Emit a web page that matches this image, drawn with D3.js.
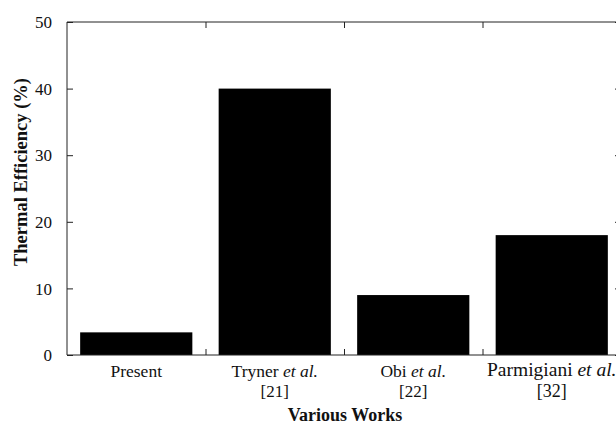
<!DOCTYPE html>
<html>
<head>
<meta charset="utf-8">
<script src="https://cdn.jsdelivr.net/npm/d3@7"></script>
<style>
  html, body { margin: 0; padding: 0; background: #fff; }
  svg { display: block; font-family: "Liberation Serif", "Times New Roman", serif; }
</style>
</head>
<body>
<svg id="chart" width="616" height="426"></svg>
<script>
// Data
const categories = ["Present", "Tryner", "Obi", "Parmigiani"];
const labelNames = ["Present", "Tryner ", "Obi ", "Parmigiani "];
const labelItalics = ["", "et al.", "et al.", "et al."];
const labelRefs = ["", "[21]", "[22]", "[32]"];
const efficiency = [3.4, 40, 9, 18];
const yTicks = [0, 10, 20, 30, 40, 50];

const svg = d3.select("#chart");
const mLeft = 67, mRight = 621, mTop = 22, mBottom = 355;

const x = d3.scaleBand().domain(categories).range([mLeft, mRight]).paddingInner(0).paddingOuter(0);
const y = d3.scaleLinear().domain([0, 50]).range([mBottom, mTop]);
const barFrac = 0.81;
const barW = x.bandwidth() * barFrac;

// Bars
svg.append("g").selectAll("rect").data(categories).join("rect")
  .attr("x", d => x(d) + (x.bandwidth() - barW) / 2)
  .attr("width", barW)
  .attr("y", (d, i) => y(efficiency[i]))
  .attr("height", (d, i) => y(0) - y(efficiency[i]))
  .attr("fill", "#000");

const tickLen = 6;
const boundaries = categories.slice(1).map(c => x(c));
const axisColor = "#222";

// Left axis
const gL = svg.append("g").attr("transform", `translate(${mLeft},0)`)
  .call(d3.axisLeft(y).tickValues(yTicks).tickSize(-tickLen).tickFormat(d3.format("d")));
gL.select(".domain").attr("stroke", axisColor).attr("d", `M0,${mTop}V${mBottom}`);
gL.selectAll(".tick line").attr("stroke", axisColor);
gL.selectAll(".tick text").attr("font-size", 17).attr("fill", "#111")
  .attr("font-family", "Liberation Serif, serif").attr("x", -15).attr("dy", "0.33em");

// Right axis
const gR = svg.append("g").attr("transform", `translate(${mRight},0)`)
  .call(d3.axisRight(y).tickValues(yTicks).tickSize(-tickLen).tickFormat(""));
gR.select(".domain").attr("stroke", axisColor).attr("d", `M0,${mTop}V${mBottom}`);
gR.selectAll(".tick line").attr("stroke", axisColor);

// Bottom axis
const xb = d3.scaleLinear().domain([mLeft, mRight]).range([mLeft, mRight]);
const gB = svg.append("g").attr("transform", `translate(0,${mBottom})`)
  .call(d3.axisBottom(xb).tickValues(boundaries).tickSize(-tickLen).tickFormat(""));
gB.select(".domain").attr("stroke", axisColor).attr("d", `M${mLeft},0H${mRight}`);
gB.selectAll(".tick line").attr("stroke", axisColor);

// Top axis
const gT = svg.append("g").attr("transform", `translate(0,${mTop})`)
  .call(d3.axisTop(xb).tickValues(boundaries).tickSize(-tickLen).tickFormat(""));
gT.select(".domain").attr("stroke", axisColor).attr("d", `M${mLeft},0H${mRight}`);
gT.selectAll(".tick line").attr("stroke", axisColor);

// Category labels
const lab = svg.append("g");
categories.forEach((c, i) => {
  const cx = x(c) + x.bandwidth() / 2;
  const big = i === 3;
  const t = lab.append("text")
    .attr("x", cx).attr("y", big ? 376 : 377)
    .attr("text-anchor", "middle")
    .attr("font-size", big ? 19.5 : 17.5)
    .attr("fill", "#111");
  t.append("tspan").text(labelNames[i]);
  if (labelItalics[i]) t.append("tspan").attr("font-style", "italic").text(labelItalics[i]);
  if (labelRefs[i]) {
    lab.append("text").attr("x", cx).attr("y", 397)
      .attr("text-anchor", "middle").attr("font-size", big ? 18 : 17)
      .attr("fill", "#111").text(labelRefs[i]);
  }
});

// Axis titles
svg.append("text").attr("x", 345).attr("y", 421)
  .attr("text-anchor", "middle").attr("font-weight", "bold").attr("font-size", 18)
  .attr("fill", "#111").text("Various Works");

svg.append("text")
  .attr("transform", `translate(27,172) rotate(-90)`)
  .attr("text-anchor", "middle").attr("font-weight", "bold").attr("font-size", 18.5)
  .attr("fill", "#111").text("Thermal Efficiency (%)");
</script>
</body>
</html>
